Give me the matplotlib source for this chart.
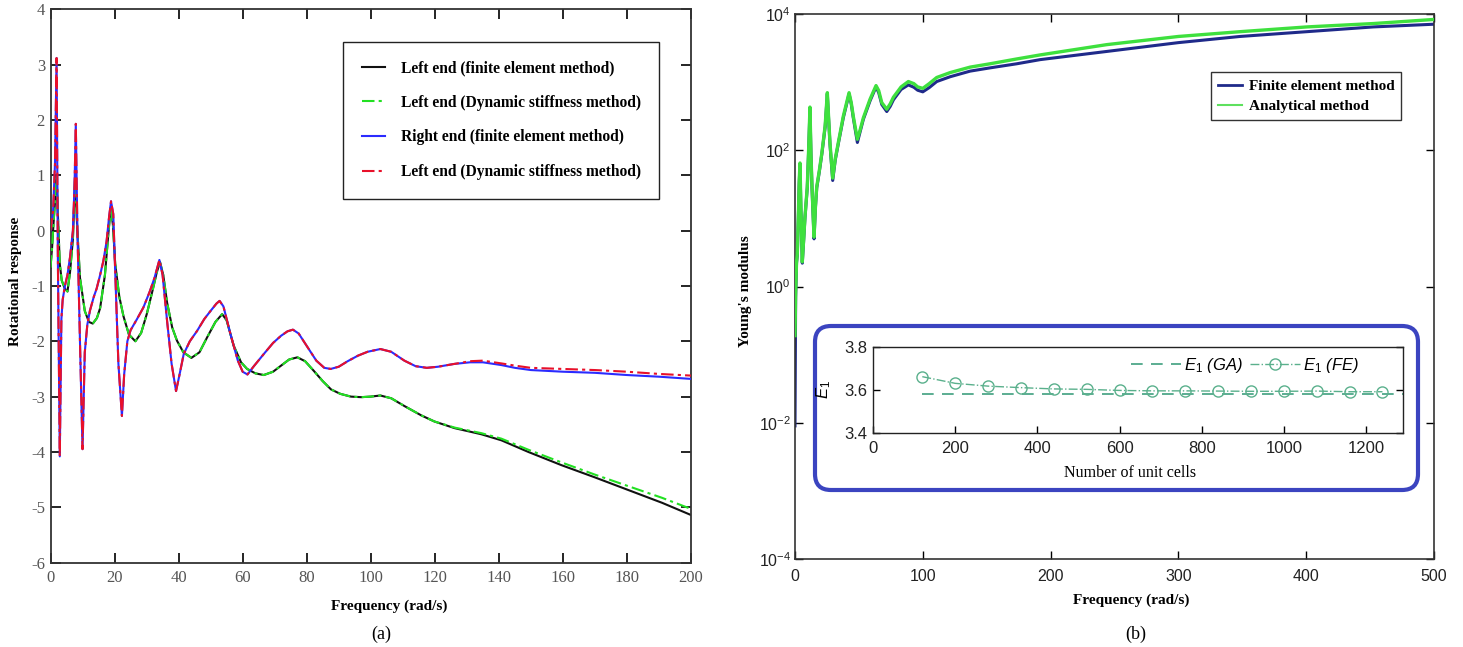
import matplotlib
matplotlib.use('Agg')
import matplotlib.pyplot as plt
from matplotlib.patches import FancyBboxPatch
from matplotlib.lines import Line2D
from matplotlib.ticker import NullLocator

plt.rcParams['axes.unicode_minus'] = False
plt.rcParams['mathtext.fontset'] = 'custom'
plt.rcParams['mathtext.rm'] = 'Liberation Sans'
plt.rcParams['mathtext.it'] = 'Liberation Sans:italic'
plt.rcParams['mathtext.bf'] = 'Liberation Sans:bold'

# ---------------- (a) Rotational response ----------------
left_freq = [0.0, 0.5, 1.0, 1.5, 1.9, 2.3, 2.9, 3.5, 4.5, 5.3, 6.1, 7.0, 7.7, 8.3, 9.2,
             10.7, 12.0, 13.2, 14.5, 15.5, 17.0, 18.0, 18.8, 19.5, 20.2, 21.5, 22.8, 24.5,
             26.5, 28.3, 30.1, 32.0, 33.2, 34.2, 35.2, 36.4, 38.0, 39.5, 41.5, 44.0,
             46.5, 48.9, 51.5, 53.6, 55.0, 57.2, 59.5, 61.4, 64.0, 66.6, 69.5, 72.0,
             74.5, 77.1, 79.5, 82.3, 85.0, 87.6, 90.5, 93.8, 97.0, 100.0, 103.0, 106.4,
             110.5, 115.8, 119.9, 126.2, 134.5, 140.8, 149.2, 159.6, 170.0, 180.5,
             191.0, 200.0]
left_fe = [-0.67, -0.3, 0.18, 0.6, 1.0, 0.3, -0.6, -0.9, -1.05, -1.1, -0.75, -0.15, 1.0,
           0.1, -0.85, -1.45, -1.65, -1.68, -1.58, -1.4, -0.8, -0.1, 0.42, 0.1, -0.6, -1.2,
           -1.55, -1.88, -2.0, -1.85, -1.5, -1.05, -0.75, -0.57, -0.8, -1.3, -1.75,
           -1.99, -2.2, -2.3, -2.2, -1.93, -1.65, -1.51, -1.62, -2.08, -2.38, -2.5,
           -2.58, -2.61, -2.55, -2.44, -2.33, -2.29, -2.36, -2.54, -2.72, -2.87, -2.95,
           -3.0, -3.01, -3.0, -2.98, -3.03, -3.17, -3.34, -3.45, -3.57, -3.68, -3.79,
           -4.0, -4.24, -4.46, -4.69, -4.92, -5.14]
left_dsm = [-0.67, -0.3, 0.18, 0.6, 1.0, 0.3, -0.6, -0.9, -1.05, -1.1, -0.75, -0.15, 1.0,
            0.1, -0.85, -1.45, -1.65, -1.68, -1.58, -1.4, -0.8, -0.1, 0.42, 0.1, -0.6, -1.2,
            -1.55, -1.88, -2.0, -1.85, -1.5, -1.05, -0.75, -0.57, -0.8, -1.3, -1.75,
            -1.99, -2.2, -2.3, -2.2, -1.93, -1.65, -1.51, -1.62, -2.08, -2.38, -2.5,
            -2.58, -2.61, -2.55, -2.44, -2.33, -2.29, -2.36, -2.54, -2.72, -2.87, -2.95,
            -3.0, -3.01, -3.0, -2.98, -3.03, -3.17, -3.34, -3.45, -3.56, -3.66, -3.76,
            -3.96, -4.19, -4.41, -4.62, -4.83, -5.03]

right_freq = [0.0, 0.8, 1.4, 1.9, 2.3, 2.9, 3.4, 3.8, 4.5, 5.3, 6.1, 7.0, 7.5, 7.9, 8.4,
              9.2, 10.0, 10.7, 11.5, 12.3, 13.5, 14.4, 15.5, 16.5, 17.5, 18.3, 18.9,
              19.6, 20.3, 21.2, 22.3, 23.0, 24.0, 25.0, 27.0, 29.0, 31.0, 32.5, 34.0,
              35.0, 36.4, 37.8, 39.2, 40.3, 41.6, 43.5, 45.8, 48.0, 50.0, 51.8, 52.8,
              54.0, 56.2, 58.5, 60.0, 61.5, 63.5, 66.6, 69.5, 72.0, 74.0, 75.7, 77.5,
              80.3, 83.0, 85.5, 87.5, 90.0, 92.8, 96.0, 99.0, 103.0, 106.4, 110.5,
              114.0, 117.5, 121.0, 126.0, 131.0, 135.0, 140.8, 145.0, 150.0, 160.0,
              170.0, 180.0, 190.0, 200.0]
right_fe = [0.0, 0.35, 1.2, 3.12, -0.5, -4.08, -1.6, -1.25, -1.0, -0.8, -0.48, 0.0, 0.8,
            1.93, 0.0, -2.0, -3.95, -2.2, -1.7, -1.45, -1.2, -1.05, -0.8, -0.55, -0.2,
            0.25, 0.53, 0.3, -0.9, -2.4, -3.35, -2.6, -2.0, -1.8, -1.6, -1.39, -1.1,
            -0.85, -0.53, -0.8, -1.63, -2.4, -2.9, -2.6, -2.23, -2.0, -1.81, -1.6,
            -1.45, -1.32, -1.27, -1.37, -1.87, -2.35, -2.55, -2.6, -2.45, -2.23, -2.03,
            -1.9, -1.82, -1.79, -1.86, -2.11, -2.35, -2.48, -2.5, -2.46, -2.36, -2.26,
            -2.19, -2.14, -2.19, -2.35, -2.45, -2.48, -2.46, -2.41, -2.38, -2.38,
            -2.43, -2.48, -2.52, -2.55, -2.57, -2.61, -2.64, -2.68]
right_dsm = [0.0, 0.35, 1.2, 3.12, -0.5, -4.08, -1.6, -1.25, -1.0, -0.8, -0.48, 0.0, 0.8,
             1.93, 0.0, -2.0, -3.95, -2.2, -1.7, -1.45, -1.2, -1.05, -0.8, -0.55, -0.2,
             0.25, 0.53, 0.3, -0.9, -2.4, -3.35, -2.6, -2.0, -1.8, -1.6, -1.39, -1.1,
             -0.85, -0.53, -0.8, -1.63, -2.4, -2.9, -2.6, -2.23, -2.0, -1.81, -1.6,
             -1.45, -1.32, -1.27, -1.37, -1.87, -2.35, -2.55, -2.6, -2.45, -2.23, -2.03,
             -1.9, -1.82, -1.79, -1.86, -2.11, -2.35, -2.48, -2.5, -2.46, -2.36, -2.26,
             -2.19, -2.14, -2.19, -2.35, -2.45, -2.48, -2.46, -2.41, -2.36, -2.35,
             -2.40, -2.44, -2.48, -2.50, -2.52, -2.55, -2.59, -2.62]

legend_a = ['Left end (finite element method)', 'Left end (Dynamic stiffness method)',
            'Right end (finite element method)', 'Left end (Dynamic stiffness method)']

# ---------------- (b) Young's modulus ----------------
freq_b = [0.0, 0.5, 1.2, 1.8, 2.6, 3.3, 3.9, 4.6, 5.7, 6.8, 7.8, 9.6, 10.8, 11.7, 12.5,
          13.3, 14.9, 16.0, 17.0, 19.0, 21.0, 23.6, 25.3, 26.3, 27.4, 29.5, 31.5, 33.9,
          37.8, 42.3, 44.0, 45.6, 48.8, 51.0, 53.5, 58.7, 63.4, 65.5, 67.9, 71.8, 74.5,
          77.0, 83.0, 88.7, 93.0, 96.0, 100.0, 105.0, 110.9, 121.4, 137.0, 152.7, 173.6,
          191.9, 243.9, 300.0, 348.2, 400.4, 452.5, 500.0]
modulus_fe = [0.009, 0.7, 2.2, 2.9, 10.2, 33, 62, 14, 2.2, 4.8, 10.2, 28, 115, 410, 86,
              28, 5.0, 14.5, 28, 48, 88, 220, 670, 290, 120, 36, 72, 125, 300, 670, 480,
              300, 130, 188, 285, 530, 850, 700, 470, 370, 440, 550, 780, 910, 840, 760,
              720, 830, 1020, 1200, 1450, 1620, 1860, 2140, 2820, 3800, 4680, 5500, 6460,
              7080]
modulus_an = [0.19, 0.8, 2.3, 3.0, 10.5, 35, 65, 15, 2.3, 5.0, 10.5, 29, 120, 430, 90,
              29, 5.3, 15, 29, 50, 91, 230, 700, 300, 126, 39, 75, 130, 316, 700, 500,
              316, 145, 200, 300, 560, 890, 750, 500, 400, 480, 600, 850, 1020, 950, 850,
              810, 950, 1170, 1380, 1660, 1860, 2190, 2510, 3550, 4680, 5500, 6460, 7240,
              8320]
legend_b = ['Finite element method', 'Analytical method']

# inset
ga_cells = [120, 1290]
ga_E1 = [3.582, 3.582]
fe_cells = [120, 200, 280, 360, 440, 520, 600, 680, 760, 840, 920, 1000, 1080, 1160, 1240]
fe_E1 = [3.662, 3.631, 3.618, 3.611, 3.605, 3.603, 3.598, 3.596, 3.596, 3.595, 3.594,
         3.594, 3.595, 3.592, 3.592]

W, H = 1463, 647
fig = plt.figure(figsize=(W / 100, H / 100), dpi=100)

serif = 'Liberation Serif'
sans = 'Liberation Sans'

# ---------- panel (a) ----------
axL = fig.add_axes([50.5 / W, 1 - 562.6 / H, 640.5 / W, 553.3 / H])
axL.plot(left_freq, left_fe, color='#111111', lw=1.5, label=legend_a[0], zorder=2)
axL.plot(left_freq, left_dsm, color='#22e022', lw=1.5, ls=(0, (6, 2, 1.5, 2)),
         label=legend_a[1], zorder=3)
axL.plot(right_freq, right_fe, color='#2b2bff', lw=1.5, label=legend_a[2], zorder=4)
axL.plot(right_freq, right_dsm, color='#e8102a', lw=1.5, ls=(0, (6, 2, 1.5, 2)),
         label=legend_a[3], zorder=5)
axL.set_xlim(0, 200)
axL.set_ylim(-6, 4)
axL.set_xticks(range(0, 201, 20))
axL.set_yticks(range(-6, 5, 1))
axL.tick_params(direction='in', top=True, right=True, length=7, width=1.2,
                labelsize=12, labelcolor='#555555', labelfontfamily=serif)
axL.tick_params(axis='x', pad=5.5)
axL.tick_params(axis='y', pad=4)
for s in axL.spines.values():
    s.set_linewidth(1.3)
    s.set_color('#333333')
legA = axL.legend(loc='upper left',
                  bbox_to_anchor=((343 - 50.5) / 640.5, (562.6 - 41.5) / 553.3),
                  borderaxespad=0, prop={'family': serif, 'weight': 'bold', 'size': 11.2},
                  fancybox=False, edgecolor='#222222', framealpha=1, borderpad=1.2,
                  labelspacing=1.2, handlelength=1.5, handletextpad=1.0)
legA.get_frame().set_linewidth(1.0)

fig.text(16 / W, 1 - 281 / H, 'Rotational response', rotation=90, ha='center',
         va='center', family=serif, weight='bold', size=11)
fig.text(389 / W, 1 - 606.7 / H, 'Frequency (rad/s)', ha='center', va='center',
         family=serif, weight='bold', size=11)
fig.text(381.7 / W, 1 - 634 / H, '(a)', ha='center', va='center', family=serif, size=13)

# ---------- panel (b) ----------
axR = fig.add_axes([795 / W, 1 - 559 / H, 639 / W, 545 / H])
axR.plot(freq_b, modulus_fe, color='#1f2a8a', lw=2.2, zorder=2)
axR.plot(freq_b, modulus_an, color='#3ee03e', lw=2.4, zorder=3)
axR.set_yscale('log')
axR.set_xlim(0, 500)
axR.set_ylim(1e-4, 1e4)
axR.set_yticks([1e-4, 1e-2, 1e0, 1e2, 1e4])
axR.yaxis.set_minor_locator(NullLocator())
axR.set_xticks(range(0, 501, 100))
axR.tick_params(direction='in', top=True, right=True, length=6, width=1.0,
                labelsize=11.5, labelcolor='#222222', labelfontfamily=sans)
axR.tick_params(axis='x', pad=7)
axR.tick_params(axis='y', pad=3)
for s in axR.spines.values():
    s.set_linewidth(1.2)
    s.set_color('#333333')
hb = [Line2D([], [], color='#1f2a8a', lw=2.0), Line2D([], [], color='#5ee05e', lw=1.5)]
legB = axR.legend(hb, legend_b, loc='upper left',
                  bbox_to_anchor=((1210.7 - 795) / 639, (559 - 72.3) / 545),
                  borderaxespad=0, prop={'family': serif, 'weight': 'bold', 'size': 11},
                  fancybox=False, edgecolor='#333333', framealpha=1, borderpad=0.45,
                  labelspacing=0.45, handlelength=1.63, handletextpad=0.4)
legB.get_frame().set_linewidth(1.0)

fig.text(745 / W, 1 - 291 / H, "Young's modulus", rotation=90, ha='center', va='center',
         family=serif, weight='bold', size=11)
fig.text(1131 / W, 1 - 600 / H, 'Frequency (rad/s)', ha='center', va='center',
         family=serif, weight='bold', size=11)
fig.text(1136 / W, 1 - 634 / H, '(b)', ha='center', va='center', family=serif, size=13)

# inset frame
box = FancyBboxPatch((815 / 100, (H - 490) / 100), 603 / 100, 164 / 100,
                     boxstyle='round,pad=0,rounding_size=0.16',
                     transform=fig.dpi_scale_trans, fc='none', ec='#3b44c0', lw=3,
                     zorder=5)
fig.add_artist(box)

axI = fig.add_axes([873 / W, 1 - 433 / H, 530 / W, 86 / H])
axI.set_zorder(6)
axI.plot(ga_cells, ga_E1, color='#3f9f7f', lw=1.2, ls=(0, (7, 5)))
axI.plot(fe_cells, fe_E1, color='#5ab08c', lw=1.0, ls='-.', marker='o', ms=8,
         mfc='none', mec='#5ab08c', mew=1.0)
axI.set_xlim(0, 1290)
axI.set_ylim(3.4, 3.8)
axI.set_yticks([3.4, 3.6, 3.8])
axI.set_xticks(range(0, 1201, 200))
axI.tick_params(direction='in', right=True, length=5, width=1.0, labelsize=12,
                labelcolor='#222222', labelfontfamily=sans)
axI.tick_params(axis='x', pad=6)
axI.tick_params(axis='y', pad=4)
for s in axI.spines.values():
    s.set_linewidth(1.0)
    s.set_color('#222222')
hi = [Line2D([], [], color='#3f9f7f', lw=1.2, ls=(0, (7, 5))),
      Line2D([], [], color='#5ab08c', lw=1.0, ls='-.', marker='o', ms=8, mfc='none',
             mec='#5ab08c')]
axI.legend(hi, [r'$E_1$ (GA)', r'$E_1$ (FE)'], ncol=2, frameon=False, loc='center left',
           bbox_to_anchor=(0.487, 0.79), borderaxespad=0, borderpad=0,
           prop={'family': sans, 'style': 'italic', 'size': 12}, handlelength=3.0,
           handletextpad=0.2, columnspacing=0.4)
fig.text(824 / W, 1 - 390 / H, r'$E_1$', rotation=90, ha='center', va='center',
         size=12, zorder=7)
fig.text(1130 / W, 1 - 473 / H, 'Number of unit cells', ha='center', va='center',
         family=serif, size=11.5, zorder=7)

fig.savefig('out.png', dpi=100)
